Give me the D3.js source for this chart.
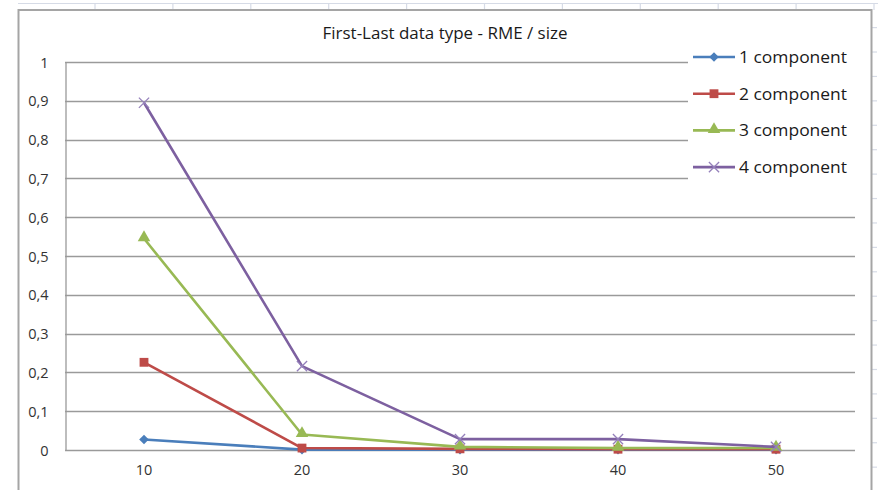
<!DOCTYPE html>
<html>
<head>
<meta charset="utf-8">
<script src="https://cdn.jsdelivr.net/npm/d3@7"></script>
<style>
  body { margin: 0; background: #fff; }
  svg { display: block; }
  text { font-family: "Open Sans", "Lato", sans-serif; }
</style>
</head>
<body>
<svg id="chart" width="878" height="490"></svg>
<script>
// ---- data ----
const categories = ["10", "20", "30", "40", "50"];
const seriesNames = ["1 component", "2 component", "3 component", "4 component"];
const comp1 = [0.027, 0.001, 0.001, 0.001, 0.001];
const comp2 = [0.226, 0.005, 0.003, 0.002, 0.002];
const comp3 = [0.545, 0.040, 0.008, 0.005, 0.005];
const comp4 = [0.895, 0.216, 0.028, 0.028, 0.008];
const yTicks = [0, 0.1, 0.2, 0.3, 0.4, 0.5, 0.6, 0.7, 0.8, 0.9, 1];
const yTickLabels = ["0", "0,1", "0,2", "0,3", "0,4", "0,5", "0,6", "0,7", "0,8", "0,9", "1"];
const chartTitle = "First-Last data type - RME / size";

const seriesValues = [comp1, comp2, comp3, comp4];
const colors = ["#4A7EBB", "#BE4B48", "#98B954", "#7D60A0"];
const markerKinds = ["diamond", "square", "triangle", "times"];

const svg = d3.select("#chart");

// ---- worksheet cell lines behind the chart object ----
const sheet = svg.append("g").attr("stroke", "#d6dbe6").attr("stroke-width", 1.2);
sheet.append("line").attr("x1", 18).attr("x2", 878).attr("y1", 3.5).attr("y2", 3.5);
d3.range(95, 878, 77.9).forEach(x => {
  sheet.append("line").attr("x1", x).attr("x2", x).attr("y1", 3.5).attr("y2", 10);
});
d3.range(27.6, 490, 24.42).forEach(y => {
  sheet.append("line").attr("x1", 872).attr("x2", 877).attr("y1", y).attr("y2", y);
});

// ---- chart object frame ----
svg.append("rect")
  .attr("x", 18.5).attr("y", 10)
  .attr("width", 853).attr("height", 500)
  .attr("fill", "#fff")
  .attr("stroke", "#a5a5a5").attr("stroke-width", 2);

// ---- scales ----
const plot = { left: 65, right: 855, top: 62, bottom: 450 };
const x = d3.scaleBand().domain(categories).range([plot.left, plot.right]).padding(0);
const cx = c => x(c) + x.bandwidth() / 2;
const y = d3.scaleLinear().domain([0, 1]).range([plot.bottom, plot.top]);

// ---- gridlines ----
const grid = svg.append("g");
grid.selectAll("line").data(yTicks).join("line")
  .attr("x1", plot.left).attr("x2", plot.right)
  .attr("y1", d => Math.round(y(d)) + 0.5).attr("y2", d => Math.round(y(d)) + 0.5)
  .attr("stroke", "#9a9a9a").attr("stroke-width", 1.3);

// ---- y axis ----
const yAxis = d3.axisLeft(y)
  .tickValues(yTicks)
  .tickFormat((d, i) => yTickLabels[i])
  .tickSize(0)
  .tickPadding(17);
const yg = svg.append("g").attr("transform", `translate(${plot.left + 0.5},0.5)`).call(yAxis);
yg.select(".domain").attr("stroke", "#9a9a9a").attr("stroke-width", 1.3);
yg.selectAll("text").attr("font-size", 14.5).attr("fill", "#333");

// ---- x axis ----
const xAxis = d3.axisBottom(x).tickSize(0).tickPadding(14);
const xg = svg.append("g").attr("transform", `translate(0,${plot.bottom + 0.5})`).call(xAxis);
xg.select(".domain").remove();
xg.selectAll("text").attr("font-size", 14.5).attr("fill", "#333");

// ---- legend backdrop (covers the grid under the legend) ----
svg.append("rect")
  .attr("x", 688).attr("y", 38).attr("width", 168).attr("height", 146)
  .attr("fill", "#fff");

// ---- marker drawing ----
function drawMarker(g, kind, color) {
  if (kind === "diamond") {
    g.append("path").attr("d", d3.symbol(d3.symbolSquare, 46)())
      .attr("transform", "rotate(45)").attr("fill", color);
  } else if (kind === "square") {
    g.append("path").attr("d", d3.symbol(d3.symbolSquare, 78)()).attr("fill", color);
  } else if (kind === "triangle") {
    g.append("path").attr("d", d3.symbol(d3.symbolTriangle, 68)())
      .attr("transform", "translate(0,-1)").attr("fill", color);
  } else {
    g.append("path").attr("d", d3.symbol(d3.symbolTimes, 70)())
      .attr("fill", "none").attr("stroke", "#9580bb").attr("stroke-width", 1.3);
  }
}

// ---- series ----
const line = d3.line().x((d, i) => cx(categories[i])).y(d => y(d));
seriesValues.forEach((vals, s) => {
  const g = svg.append("g");
  g.append("path").datum(vals)
    .attr("d", line)
    .attr("fill", "none")
    .attr("stroke", colors[s])
    .attr("stroke-width", 2.6)
    .attr("stroke-linejoin", "round");
  vals.forEach((v, i) => {
    const m = g.append("g").attr("transform", `translate(${cx(categories[i])},${y(v)})`);
    drawMarker(m, markerKinds[s], colors[s]);
  });
});

// ---- title ----
svg.append("text")
  .attr("x", 445).attr("y", 39)
  .attr("text-anchor", "middle")
  .attr("font-size", 15.5)
  .attr("textLength", 245)
  .attr("lengthAdjust", "spacingAndGlyphs")
  .attr("fill", "#1a1a1a")
  .text(chartTitle);

// ---- legend ----
const legend = svg.append("g");
seriesNames.forEach((name, s) => {
  const yy = 57 + s * 36.7;
  const row = legend.append("g").attr("transform", `translate(0,${yy})`);
  row.append("line").attr("x1", 693).attr("x2", 735).attr("y1", 0).attr("y2", 0)
    .attr("stroke", colors[s]).attr("stroke-width", 2.6);
  const m = row.append("g").attr("transform", "translate(714,0)");
  drawMarker(m, markerKinds[s], colors[s]);
  row.append("text").attr("x", 739).attr("y", 0).attr("dy", "0.36em")
    .attr("font-size", 16.5)
    .attr("textLength", 108)
    .attr("lengthAdjust", "spacingAndGlyphs")
    .attr("fill", "#1a1a1a")
    .text(name);
});
</script>
</body>
</html>
